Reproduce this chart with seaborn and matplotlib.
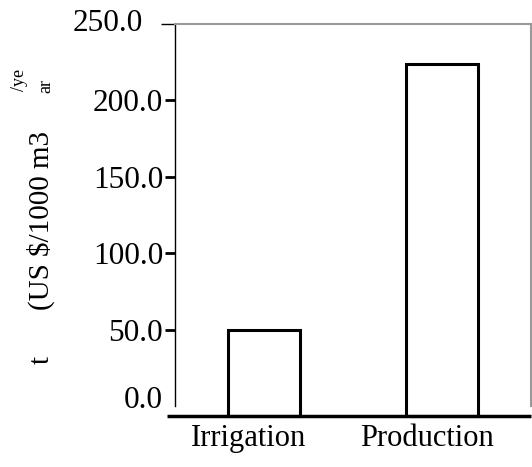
import matplotlib
matplotlib.use("Agg")
import matplotlib.pyplot as plt
import matplotlib.transforms as mtransforms
import seaborn as sns

categories = ["Irrigation", "Production"]
values = [50.0, 224.0]
yticks = [0, 50, 100, 150, 200, 250]

sns.set_style("white")
plt.rcParams['font.family'] = ['Liberation Serif', 'DejaVu Serif']
plt.rcParams['text.color'] = 'black'

W, H = 532, 467
fig = plt.figure(figsize=(W / 100, H / 100), dpi=100)
ax = fig.add_axes([175 / W, 1 - 406 / H, (531 - 175) / W, (406 - 24) / H])

sns.barplot(x=categories, y=values, ax=ax, color="white", saturation=1,
            edgecolor="black", linewidth=2.2, width=0.4)
ax.set_xlim(-0.5, 1.5)
ax.set_ylim(0, 250)
ax.set_yticks(yticks)
ax.set_yticklabels([f"{v:.1f}" for v in yticks])

# spines: black left axis, grey frame on top/right, bottom drawn separately
for s in ["top", "right"]:
    ax.spines[s].set_color("#999999")
    ax.spines[s].set_linewidth(1.5)
ax.spines["left"].set_color("black")
ax.spines["left"].set_linewidth(1)
ax.spines["bottom"].set_visible(False)

ax.tick_params(axis="y", left=True, length=7, width=2, color="black",
               pad=1.5, labelsize=22.5, labelcolor="black")
ax.tick_params(axis="x", bottom=False, length=0, pad=13, labelsize=22,
               labelcolor="black")

ticks = ax.yaxis.get_major_ticks()
ticks[0].tick1line.set_visible(False)
ticks[-1].tick1line.set_markersize(10)
ticks[-1].tick1line.set_markeredgewidth(1)

def shift(label, dx, dy):
    label.set_transform(label.get_transform() +
                        mtransforms.ScaledTranslation(dx / 100, dy / 100, fig.dpi_scale_trans))

shift(ticks[-1].label1, -20, 4)
shift(ticks[0].label1, 0, 9)
for lab in ax.get_xticklabels():
    shift(lab, -15, 0)

# bars run down to the base line below zero
base = -6.5
for p in ax.patches:
    p.set_height(p.get_height() - base)
    p.set_y(base)
    p.set_clip_on(False)
ax.plot([-0.5 - 8 / 178, 1.5], [base, base], color="black", lw=2.5,
        clip_on=False, zorder=5, solid_capstyle="butt")

# broken y label pieces
fig.text(41 / W, 1 - 221 / H, "(US $/1000 m3", rotation=90, ha="center",
         va="center", fontsize=21)
fig.text(42 / W, 1 - 360 / H, "t", rotation=90, ha="center", va="center",
         fontsize=21)
fig.text(19 / W, 1 - 80 / H, "/ye", rotation=90, ha="center", va="center",
         fontsize=13)
fig.text(46 / W, 1 - 86 / H, "ar", rotation=90, ha="center", va="center",
         fontsize=13)

fig.savefig("out.png", dpi=100)
